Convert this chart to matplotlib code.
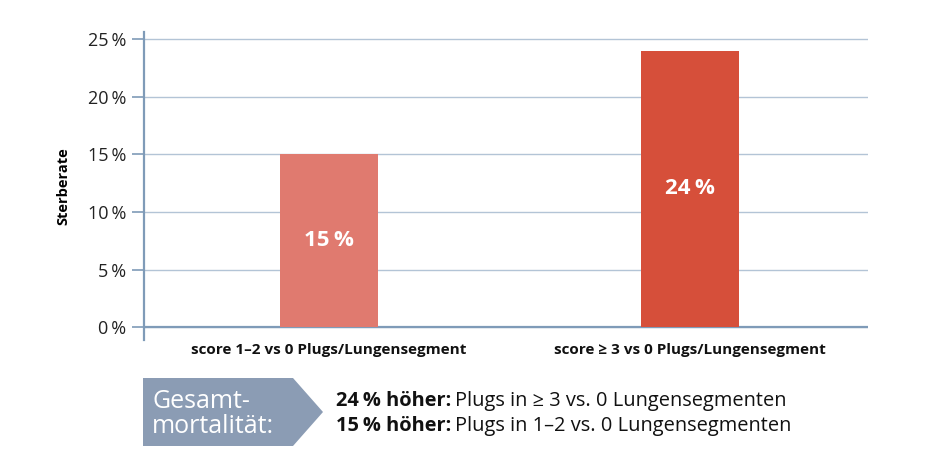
import matplotlib
matplotlib.use("Agg")
import matplotlib.pyplot as plt
from matplotlib.patches import Polygon

plt.rcParams['font.family'] = ['Open Sans', 'DejaVu Sans']

# data
categories = ['score 1\u20132 vs 0 Plugs/Lungensegment',
              'score \u2265 3 vs 0 Plugs/Lungensegment']
values = [15, 24]
bar_labels = ['15\u2009%', '24\u2009%']
bar_colors = ['#E07A6F', '#D64F3A']
y_ticks = [0, 5, 10, 15, 20, 25]
y_tick_labels = ['0\u2009%', '5\u2009%', '10\u2009%', '15\u2009%', '20\u2009%', '25\u2009%']
box_title = 'Gesamt-\nmortalit\u00e4t:'
summary_bold = ['24\u2009% h\u00f6her:', '15\u2009% h\u00f6her:']
summary_text = ['Plugs in \u2265 3 vs. 0 Lungensegmenten',
                'Plugs in 1\u20132 vs. 0 Lungensegmenten']

grid_color = '#B3C4D6'
spine_color = '#7F9BB8'
box_color = '#8B9CB4'

fig = plt.figure(figsize=(9.3, 4.65), dpi=100)
ax = fig.add_axes([0.1548, 0.269, 0.7785, 0.662])

x = list(range(len(categories)))
ax.bar(x, values, width=0.27, color=bar_colors, zorder=3)
for xi, v, lab in zip(x, values, bar_labels):
    ax.text(xi, v / 2, lab, ha='center', va='center', color='white',
            fontsize=16, fontweight='bold', zorder=4)

ax.set_xlim(-0.512, 1.493)
ax.set_ylim(-1.1, 25.6)
ax.set_yticks(y_ticks)
ax.set_yticklabels(y_tick_labels, fontsize=13, color='#222222')
ax.yaxis.grid(True, color=grid_color, linewidth=1.0, zorder=0)
ax.axhline(0, color=spine_color, linewidth=1.6, zorder=2)

ax.set_xticks(x)
ax.set_xticklabels(categories, fontsize=11, fontweight='bold', color='#111111')
ax.tick_params(axis='x', length=0, pad=2)
ax.tick_params(axis='y', length=9, width=1.2, color=spine_color, pad=4)

for side in ['top', 'right', 'bottom']:
    ax.spines[side].set_visible(False)
ax.spines['left'].set_color(spine_color)
ax.spines['left'].set_linewidth(1.6)

ax.set_ylabel('Sterberate', fontsize=10.5, fontweight='bold', labelpad=12)

# arrow box below the chart (figure pixels -> fraction)
W, H = 930, 465
pts = [(143, 378), (293, 378), (323, 412), (293, 446), (143, 446)]
poly = Polygon([(px / W, 1 - py / H) for px, py in pts], closed=True,
               transform=fig.transFigure, facecolor=box_color, edgecolor='none')
fig.patches.append(poly)
fig.text(152 / W, 1 - 414 / H, box_title, color='white', fontsize=18,
         fontweight='medium', va='center', ha='left', linespacing=1.0)

for i, (b, t) in enumerate(zip(summary_bold, summary_text)):
    yy = 1 - (401 + i * 25) / H
    tb = fig.text(336 / W, yy, b, fontsize=14.4, fontweight='bold',
                  va='center', ha='left', color='#111111')
    fig.canvas.draw()
    bb = tb.get_window_extent()
    fig.text(bb.x1 / W + 4 / W, yy, t, fontsize=14.4, va='center', ha='left',
             color='#111111')

fig.savefig('out.png', dpi=100)
